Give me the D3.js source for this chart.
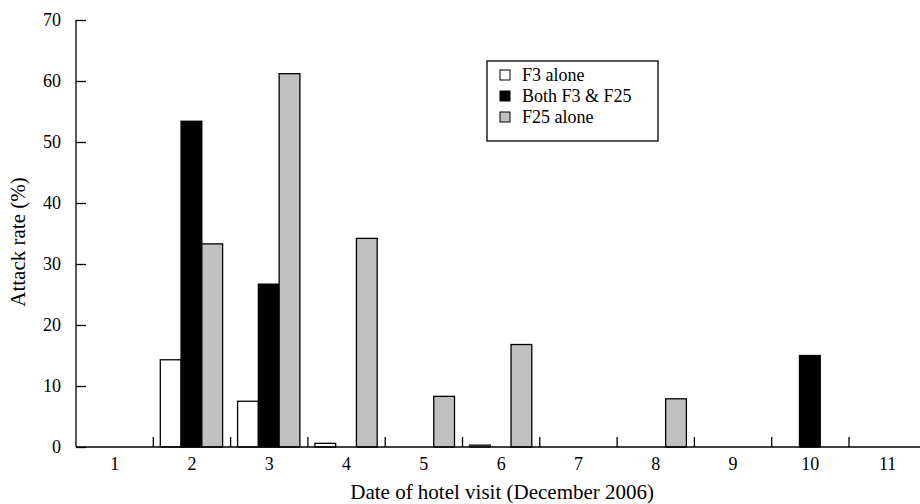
<!DOCTYPE html>
<html>
<head>
<meta charset="utf-8">
<script src="https://cdn.jsdelivr.net/npm/d3@7/dist/d3.min.js"></script>
<style>
    body { margin: 0; background: #fff; }
    svg { display: block; font-family: "Liberation Serif", "Times New Roman", serif; }
    .axis path, .axis line { stroke: #000; stroke-width: 1.3; }
    .axis text { font-size: 18px; fill: #000; font-family: "Liberation Serif", serif; }
</style>
</head>
<body>
<div class="attack-chart"></div>
<script>
// values (null = no bar drawn)
const dates = ["1", "2", "3", "4", "5", "6", "7", "8", "9", "10", "11"];
const f3Alone = [null, 14.3, 7.5, 0.6, 0, 0.3, null, 0, 0, 0, null];
const bothF3F25 = [null, 53.4, 26.7, 0, 0, 0, null, 0, 0, 15.0, null];
const f25Alone = [null, 33.3, 61.2, 34.2, 8.3, 16.8, null, 7.9, 0, 0, null];
const seriesNames = ["F3 alone", "Both F3 & F25", "F25 alone"];
const seriesColors = ["#ffffff", "#000000", "#c0c0c0"];
const yTicks = [0, 10, 20, 30, 40, 50, 60, 70];

const width = 920, height = 504;
const margin = { top: 20, left: 76, bottom: 57 };
const bandStep = 77.3;

const svg = d3.select(".attack-chart").append("svg")
    .attr("width", width).attr("height", height);

const x = d3.scaleBand()
    .domain(dates)
    .range([margin.left, margin.left + bandStep * dates.length]);

const y = d3.scaleLinear()
    .domain([0, 70])
    .range([height - margin.bottom, margin.top]);

const xs = d3.scaleBand()
    .domain(seriesNames)
    .range([7, x.bandwidth() - 8]);

const series = [f3Alone, bothF3F25, f25Alone];

// bars
series.forEach((vals, s) => {
    const rows = dates.map((d, i) => ({ date: d, value: vals[i] }))
        .filter(r => r.value !== null);
    svg.append("g")
        .selectAll("rect")
        .data(rows)
        .enter().append("rect")
        .attr("x", d => x(d.date) + xs(seriesNames[s]))
        .attr("y", d => y(d.value))
        .attr("width", xs.bandwidth())
        .attr("height", d => y(0) - y(d.value))
        .attr("fill", seriesColors[s])
        .attr("stroke", "#000")
        .attr("stroke-width", 1.3);
});

// y axis, ticks pointing inward
const yAxis = svg.append("g")
    .attr("class", "axis axis--y")
    .attr("transform", "translate(" + margin.left + ",0)")
    .call(d3.axisLeft(y).tickValues(yTicks).tickSizeInner(-10).tickSizeOuter(0).tickPadding(15));
yAxis.select(".domain").attr("d", "M0," + y(70) + "V" + y(0));

// x axis: baseline, labels centred, upward ticks at category boundaries
const xAxis = svg.append("g")
    .attr("class", "axis axis--x")
    .attr("transform", "translate(0," + y(0) + ")")
    .call(d3.axisBottom(x).tickSize(0).tickPadding(10));
xAxis.select(".domain").attr("d", "M" + margin.left + ",0H" + width);

xAxis.selectAll(".sep")
    .data(dates.slice(1))
    .enter().append("line")
    .attr("class", "sep")
    .attr("x1", d => x(d)).attr("x2", d => x(d))
    .attr("y1", 0).attr("y2", -10);

// axis titles
svg.append("text")
    .attr("x", (margin.left + x.range()[1]) / 2 + 1)
    .attr("y", 499)
    .attr("text-anchor", "middle")
    .style("font-size", "21px")
    .text("Date of hotel visit (December 2006)");

svg.append("text")
    .attr("transform", "translate(25," + 242 + ") rotate(-90)")
    .attr("text-anchor", "middle")
    .style("font-size", "21px")
    .text("Attack rate (%)");

// legend
const legend = svg.append("g").attr("transform", "translate(487,61)");
legend.append("rect")
    .attr("width", 171).attr("height", 80)
    .attr("fill", "#fff").attr("stroke", "#000").attr("stroke-width", 1.3);

const items = legend.selectAll(".item")
    .data(seriesNames)
    .enter().append("g")
    .attr("class", "item")
    .attr("transform", (d, i) => "translate(13," + (14 + i * 21) + ")");

items.append("rect")
    .attr("width", 10).attr("height", 10).attr("y", -5)
    .attr("fill", (d, i) => seriesColors[i])
    .attr("stroke", "#000").attr("stroke-width", 1);

items.append("text")
    .attr("x", 22).attr("y", 0).attr("dy", "0.35em")
    .style("font-size", "18px")
    .text(d => d);
</script>
</body>
</html>
